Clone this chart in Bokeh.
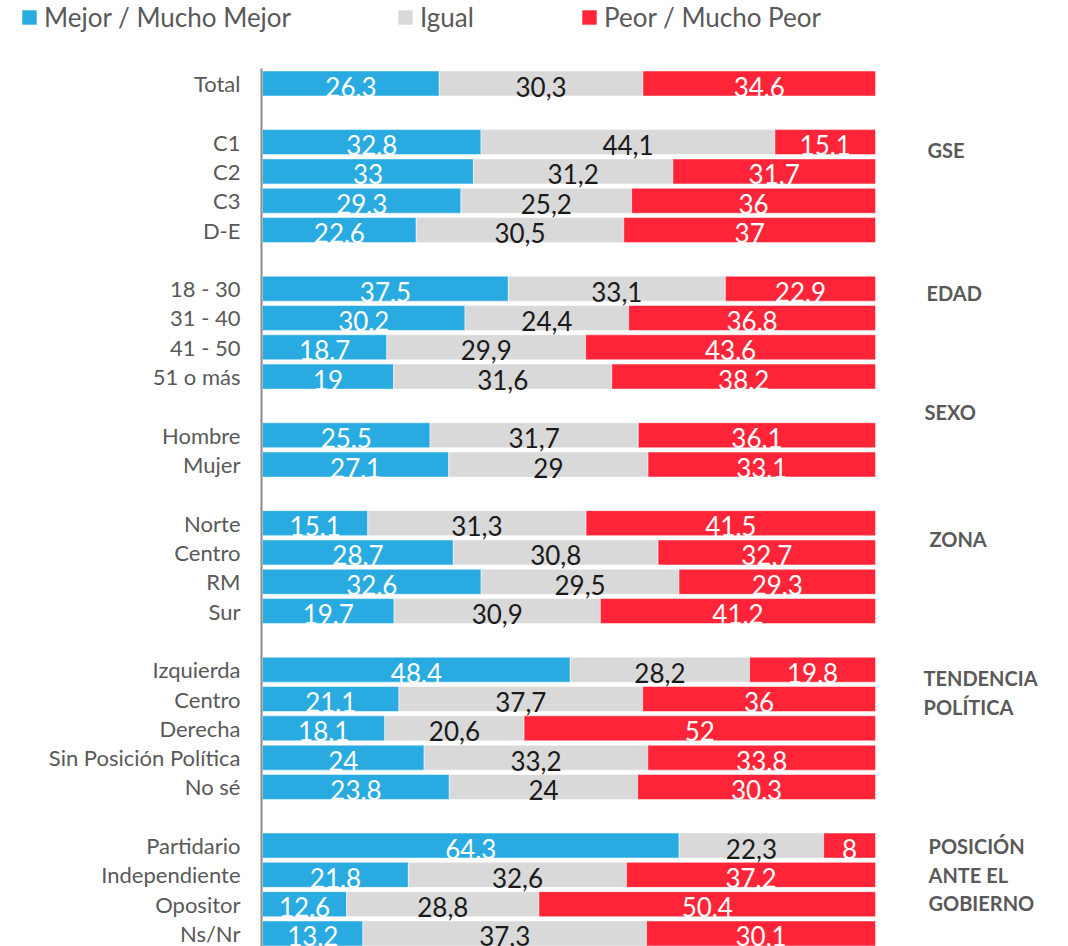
from bokeh.plotting import figure
from bokeh.layouts import column
from bokeh.models import (Range1d, ColumnDataSource, LinearAxis, FixedTicker,
                          Legend, LegendItem)
from bokeh.core.properties import value
from bokeh.embed import file_html
from bokeh.resources import INLINE

# ---------------- data ----------------
labels = ["Total",
          "C1", "C2", "C3", "D-E",
          "18 - 30", "31 - 40", "41 - 50", "51 o más",
          "Hombre", "Mujer",
          "Norte", "Centro", "RM", "Sur",
          "Izquierda", "Centro", "Derecha", "Sin Posición Política", "No sé",
          "Partidario", "Independiente", "Opositor", "Ns/Nr"]
mejor = [26.3, 32.8, 33, 29.3, 22.6, 37.5, 30.2, 18.7, 19, 25.5, 27.1,
         15.1, 28.7, 32.6, 19.7, 48.4, 21.1, 18.1, 24, 23.8, 64.3, 21.8, 12.6, 13.2]
igual = [30.3, 44.1, 31.2, 25.2, 30.5, 33.1, 24.4, 29.9, 31.6, 31.7, 29,
         31.3, 30.8, 29.5, 30.9, 28.2, 37.7, 20.6, 33.2, 24, 22.3, 32.6, 28.8, 37.3]
peor = [34.6, 15.1, 31.7, 36, 37, 22.9, 36.8, 43.6, 38.2, 36.1, 33.1,
        41.5, 32.7, 29.3, 41.2, 19.8, 36, 52, 33.8, 30.3, 8, 37.2, 50.4, 30.1]
group_sizes = [1, 4, 4, 2, 4, 5, 4]
group_names = ["", "GSE", "EDAD", "SEXO", "ZONA", "TENDENCIA\nPOLÍTICA",
               "POSICIÓN\nANTE EL\nGOBIERNO"]
series_names = ["Mejor / Mucho Mejor", "Igual", "Peor / Mucho Peor"]

# ---------------- layout ----------------
BLUE, GRAY, RED = "#29abe2", "#d9d9d9", "#ff2437"
PX_PER_UNIT = 6.13          # px per percentage point
ROW_PX = 29.31
W = 1068
LEG_H = 40
H = 946 - LEG_H
LEFT = 261
FONT = "Lato"

# rows: one blank row between groups
rows = []
r = 0
group_start_rows = []
for gi, n in enumerate(group_sizes):
    if gi > 0:
        r += 1
    group_start_rows.append(r)
    for _ in range(n):
        rows.append(r)
        r += 1

# group label offsets relative to the group's first row (layout only)
group_row_offset = [0, 0.22, 0.13, -0.82, 0.49, 0.24, -0.03]
group_x_px = [0, 927, 926, 924, 929, 923, 928]

tot = [a + b + c for a, b, c in zip(mejor, igual, peor)]
m_end = [a / t * 100 for a, t in zip(mejor, tot)]
g_end = [(a + b) / t * 100 for a, b, t in zip(mejor, igual, tot)]

def fmt(v):
    return ("%g" % v).replace(".", ",")

src = ColumnDataSource(dict(
    y=rows, m0=[0] * len(rows), m1=m_end, g1=g_end, p1=[100] * len(rows),
    mc=[a / 2 for a in m_end],
    gc=[(a + b) / 2 for a, b in zip(m_end, g_end)],
    pc=[(b + 100) / 2 for b in g_end],
    mt=[fmt(v) for v in mejor], gt=[fmt(v) for v in igual], pt=[fmt(v) for v in peor],
))

x0 = (LEFT - 262) / PX_PER_UNIT
x1 = x0 + (W - LEFT) / PX_PER_UNIT
y_top = (LEG_H - 83) / ROW_PX
y_bot = y_top + H / ROW_PX

p = figure(width=W, height=H, output_backend="svg", toolbar_location=None,
           x_range=Range1d(x0, x1), y_range=Range1d(y_bot, y_top),
           x_axis_type=None, y_axis_type=None,
           min_border_left=LEFT, min_border_right=0, min_border_top=0,
           min_border_bottom=0)
p.frame_align = False
p.outline_line_color = None
p.xgrid.visible = False
p.ygrid.visible = False
p.background_fill_color = "white"
p.border_fill_color = "white"

BAR_H = 0.853
common = dict(y="y", height=BAR_H, source=src, line_color="white",
              line_alpha=0.5, line_width=1)
p.hbar(left="m0", right="m1", fill_color=BLUE, **common)
p.hbar(left="m1", right="g1", fill_color=GRAY, **common)
p.hbar(left="g1", right="p1", fill_color=RED, **common)

txt = dict(y="y", source=src, text_align="center", text_baseline="middle",
           y_offset=3, text_font=value(FONT), text_font_size="26px")
p.text(x="mc", text="mt", text_color="white", **txt)
p.text(x="gc", text="gt", text_color="#1a1a1a", **txt)
p.text(x="pc", text="pt", text_color="white", **txt)

# group labels
gx, gy, gt = [], [], []
for gi, name in enumerate(group_names):
    if not name:
        continue
    for li, line in enumerate(name.split("\n")):
        gx.append((group_x_px[gi] - 262) / PX_PER_UNIT)
        gy.append(group_start_rows[gi] + group_row_offset[gi] + li * 0.985)
        gt.append(line)
p.text(x=gx, y=gy, text=gt, text_align="left", text_baseline="middle",
       text_font=value(FONT), text_font_size="20px", text_font_style="bold",
       text_color="#595959", y_offset=1)

# category axis
ax = LinearAxis(ticker=FixedTicker(ticks=rows),
                major_label_overrides={rv: lab for rv, lab in zip(rows, labels)},
                bounds=(-0.51, 29.7))
ax.major_tick_line_color = None
ax.minor_tick_line_color = None
ax.major_tick_out = 0
ax.major_tick_in = 0
ax.axis_line_color = "#8c8c8c"
ax.axis_line_width = 2
ax.major_label_text_font = FONT
ax.major_label_text_font_size = "22px"
ax.major_label_text_color = "#595959"
ax.major_label_standoff = 21
p.add_layout(ax, "left")

# ---------------- legend strip ----------------
lp = figure(width=W, height=LEG_H, output_backend="svg", toolbar_location=None,
            x_range=Range1d(0, W), y_range=Range1d(0, LEG_H),
            x_axis_type=None, y_axis_type=None,
            min_border_left=0, min_border_right=0, min_border_top=0,
            min_border_bottom=0)
lp.frame_align = False
lp.outline_line_color = None
lp.xgrid.visible = False
lp.ygrid.visible = False
leg_x = [22, 398, 582]
for color, name, lx in zip([BLUE, GRAY, RED], series_names, leg_x):
    # swatch source lies outside the strip's visible range
    rend = lp.hbar(y=[-100], left=[0], right=[1], height=1, fill_color=color,
                   line_color=None)
    lg = Legend(items=[LegendItem(label=name, renderers=[rend])],
                location=(lx - 2, 7),
                orientation="horizontal", padding=0, margin=0, spacing=0,
                glyph_width=18, glyph_height=18, label_standoff=6,
                label_text_font=FONT, label_text_font_size="26px",
                label_text_color="#595959", border_line_color=None,
                background_fill_alpha=0)
    lp.add_layout(lg, "center")

layout = column(lp, p, spacing=0)
open("out.html", "w").write(file_html(layout, INLINE))
